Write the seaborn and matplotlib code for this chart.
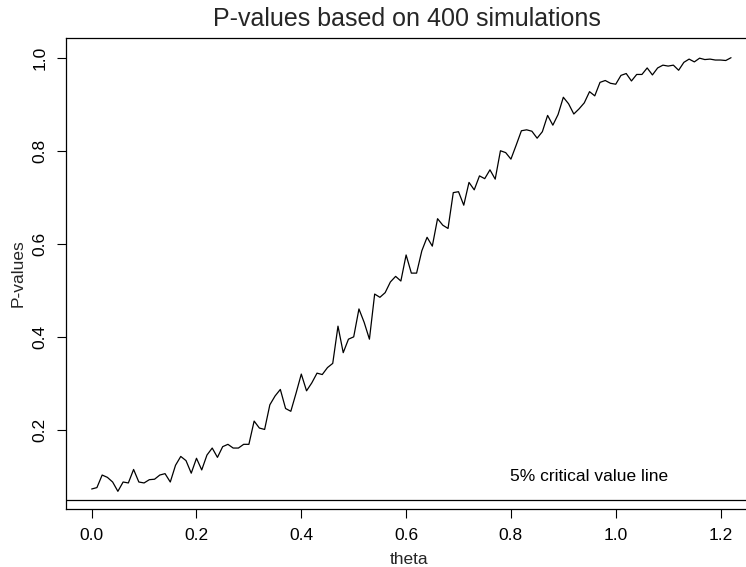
import numpy as np
import pandas as pd
import matplotlib
matplotlib.use("Agg")
import matplotlib.pyplot as plt
import seaborn as sns

# ---- data -------------------------------------------------------------
theta = np.round(np.linspace(0.0, 1.22, 123), 2)
p_values = [
    0.073, 0.076, 0.103, 0.098, 0.088, 0.068, 0.088, 0.086, 0.115, 0.088,
    0.086, 0.093, 0.094, 0.103, 0.106, 0.088, 0.124, 0.143, 0.134, 0.107,
    0.139, 0.114, 0.146, 0.161, 0.141, 0.164, 0.169, 0.161, 0.161, 0.169,
    0.169, 0.219, 0.204, 0.201, 0.254, 0.273, 0.287, 0.246, 0.240, 0.279,
    0.320, 0.284, 0.301, 0.322, 0.319, 0.334, 0.343, 0.423, 0.366, 0.395,
    0.400, 0.460, 0.431, 0.395, 0.492, 0.485, 0.495, 0.518, 0.530, 0.520,
    0.576, 0.537, 0.537, 0.585, 0.614, 0.595, 0.654, 0.640, 0.633, 0.710,
    0.712, 0.683, 0.732, 0.716, 0.746, 0.740, 0.759, 0.739, 0.800, 0.796,
    0.782, 0.812, 0.843, 0.845, 0.842, 0.827, 0.841, 0.876, 0.855, 0.878,
    0.915, 0.901, 0.879, 0.890, 0.903, 0.927, 0.918, 0.947, 0.951, 0.945,
    0.943, 0.962, 0.966, 0.950, 0.964, 0.964, 0.978, 0.963, 0.978, 0.984,
    0.982, 0.984, 0.973, 0.990, 0.997, 0.991, 0.999, 0.996, 0.997, 0.995,
    0.995, 0.994, 1.000,
]
critical_value = 0.05
critical_label = "5% critical value line"
title = "P-values based on 400 simulations"
x_label = "theta"
y_label = "P-values"
x_ticks = [0.0, 0.2, 0.4, 0.6, 0.8, 1.0, 1.2]
y_ticks = [0.2, 0.4, 0.6, 0.8, 1.0]

df = pd.DataFrame({"theta": theta, "p": p_values})

# ---- style ------------------------------------------------------------
sns.set_style("ticks")
plt.rcParams["font.family"] = ["Liberation Sans", "DejaVu Sans"]

W, H = 746, 567
fig = plt.figure(figsize=(W / 100, H / 100), dpi=100)
# axes box in pixels (R-like plot region; extends slightly past right edge)
left_px, right_px, top_px, bottom_px = 66.1, 756.6, 37.7, 509.0
ax = fig.add_axes([left_px / W, (H - bottom_px) / H,
                   (right_px - left_px) / W, (bottom_px - top_px) / H])

sns.lineplot(data=df, x="theta", y="p", ax=ax, color="black",
             linewidth=0.9, estimator=None)
ax.axhline(critical_value, color="black", linewidth=0.9)
ax.text(0.95, 0.1, critical_label, ha="center", va="center",
        fontsize=12.5, color="black")

xmin, xmax = 0.0, 1.22
xr = xmax - xmin
ax.set_xlim(xmin - 0.04 * xr, xmax + 0.04 * xr)
ax.set_ylim(0.030, 1.043)

ax.set_xticks(x_ticks)
ax.set_xticklabels([f"{t:.1f}" for t in x_ticks])
ax.set_yticks(y_ticks)
ax.set_yticklabels([f"{t:.1f}" for t in y_ticks], rotation=90, va="center")

ax.tick_params(axis="both", direction="out", length=6.5, width=0.8,
               labelsize=12.5, colors="black", pad=7)
for s in ax.spines.values():
    s.set_visible(True)
    s.set_linewidth(0.9)
    s.set_color("black")

ax.set_xlabel(x_label, fontsize=12.5)
ax.set_ylabel(y_label, fontsize=12.5)
ax_h = bottom_px - top_px
ax_w = right_px - left_px
ax.xaxis.set_label_coords((409 - left_px) / ax_w, -(552 - bottom_px) / ax_h)
ax.xaxis.label.set_va("top")
ax.yaxis.set_label_coords(-(left_px - 11) / ax_w, 0.5)
ax.yaxis.label.set_va("top")

ax.set_title(title, fontsize=18, pad=8.4, x=(407 - left_px) / ax_w)

fig.savefig("out.png", dpi=100)
